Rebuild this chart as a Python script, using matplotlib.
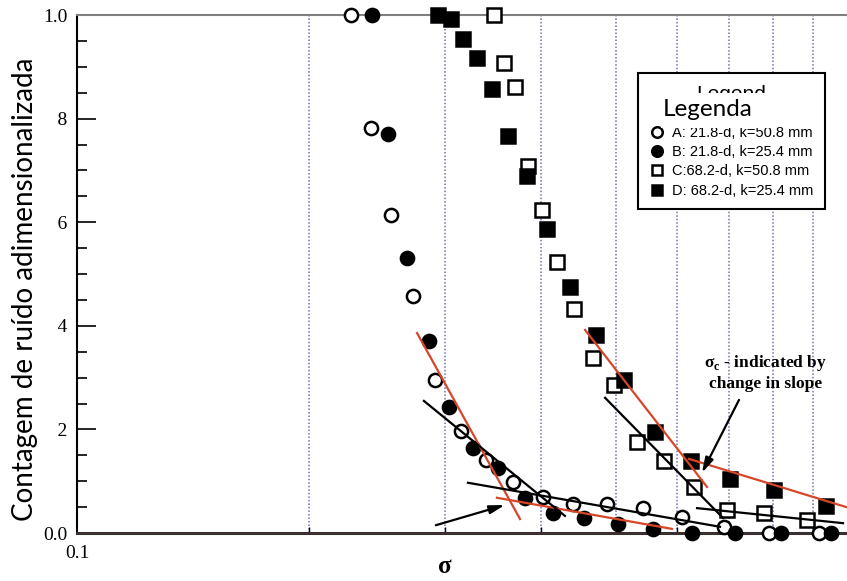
import matplotlib
matplotlib.use('Agg')
import matplotlib.pyplot as plt
import numpy as np
from matplotlib.patches import Rectangle
from matplotlib.ticker import NullFormatter

plt.rcParams['mathtext.fontset'] = 'custom'
plt.rcParams['mathtext.rm'] = 'Liberation Serif'
plt.rcParams['mathtext.bf'] = 'Liberation Serif:bold'

# values (sigma on log axis, normalized noise count)
a_sigma = [0.2266, 0.2406, 0.2555, 0.2728, 0.2912, 0.3148, 0.3392, 0.3677,
           0.4021, 0.4398, 0.4869, 0.5421, 0.6091, 0.6905, 0.7900, 0.9170]
a_count = [1.0, 0.782, 0.614, 0.458, 0.295, 0.197, 0.141, 0.098,
           0.069, 0.056, 0.056, 0.048, 0.031, 0.012, 0.0, 0.0]

b_sigma = [0.2414, 0.2532, 0.2679, 0.2860, 0.3037, 0.3263, 0.3516, 0.3812,
           0.4143, 0.4546, 0.5032, 0.5586, 0.6278, 0.7135, 0.8186, 0.9506]
b_count = [1.0, 0.770, 0.531, 0.371, 0.243, 0.164, 0.125, 0.068,
           0.039, 0.029, 0.017, 0.008, 0.0, 0.0, 0.0, 0.0]

c_sigma = [0.3475, 0.3580, 0.3699, 0.3846, 0.4009, 0.4195, 0.4412, 0.4670,
           0.4972, 0.5324, 0.5773, 0.6316, 0.6967, 0.7783, 0.8845]
c_count = [1.0, 0.907, 0.861, 0.708, 0.624, 0.523, 0.432, 0.338,
           0.286, 0.176, 0.139, 0.089, 0.044, 0.039, 0.025]

d_sigma = [0.2938, 0.3055, 0.3166, 0.3302, 0.3454, 0.3622, 0.3835, 0.4071,
           0.4359, 0.4712, 0.5123, 0.5620, 0.6259, 0.7031, 0.8017, 0.9365]
d_count = [1.0, 0.992, 0.954, 0.917, 0.857, 0.766, 0.689, 0.587,
           0.475, 0.382, 0.295, 0.195, 0.139, 0.104, 0.083, 0.052]

labels = ['A: 21.8-d, k=50.8 mm', 'B: 21.8-d, k=25.4 mm',
          'C:68.2-d, k=50.8 mm', 'D: 68.2-d, k=25.4 mm']

# slope lines: (sigma start, sigma end), (count start, count end)
red_fits = [((0.2761, 0.3755), (0.386, 0.027)),
            ((0.3505, 0.5910), (0.068, 0.008)),
            ((0.4560, 0.6563), (0.392, 0.089)),
            ((0.6221, 1.0), (0.143, 0.049))]
black_fits = [((0.2818, 0.4294), (0.255, 0.033)),
              ((0.3214, 0.6823), (0.097, 0.012)),
              ((0.4841, 0.6885), (0.261, 0.029)),
              ((0.6371, 0.9852), (0.048, 0.019))]

# arrows: (tail, head)
arrows = [((0.2920, 0.015), (0.3589, 0.054)),
          ((0.7222, 0.257), (0.6464, 0.116))]

y_major = [0.0, 0.2, 0.4, 0.6, 0.8, 1.0]
y_minor = [0.05, 0.1, 0.15, 0.25, 0.3, 0.35, 0.45, 0.5, 0.55,
           0.65, 0.7, 0.75, 0.85, 0.9, 0.95]
x_grid = [0.2, 0.3, 0.4, 0.5, 0.6, 0.7, 0.8, 0.9]

W, H = 847, 581


def fx(px):
    return px / W


def fy(py):
    return 1 - py / H


fig = plt.figure(figsize=(W / 100, H / 100), dpi=100)
ax = fig.add_axes([fx(77), fy(533), 771 / W, 518 / H])
ax.set_xscale('log')
ax.set_xlim(0.1, 1.0)
ax.set_ylim(0, 1.0)

ax.set_xticks([0.1])
ax.set_xticklabels(['0.1'])
ax.set_xticks(x_grid, minor=True)
ax.xaxis.set_minor_formatter(NullFormatter())
ax.set_yticks(y_major)
ax.set_yticklabels(['%.1f' % v for v in y_major])
ax.set_yticks(y_minor, minor=True)

ax.tick_params(axis='y', which='major', direction='in', length=14, width=1.2,
               labelsize=14, pad=7)
ax.tick_params(axis='y', which='minor', direction='in', length=7, width=1.2)
ax.tick_params(axis='x', which='minor', direction='in', length=4, width=1)
ax.tick_params(axis='x', which='major', length=0, labelsize=14, pad=9)
for lbl in ax.get_xticklabels() + ax.get_yticklabels():
    lbl.set_fontfamily('Liberation Serif')

ax.grid(which='minor', axis='x', color='#6f6fb5', linestyle=(0, (1, 1.3)), lw=1.1)

ax.spines['right'].set_visible(False)
ax.spines['top'].set_color('#808080')
ax.spines['top'].set_linewidth(1.5)
ax.spines['left'].set_linewidth(1.5)
ax.spines['bottom'].set_color('#3a3030')
ax.spines['bottom'].set_linewidth(2.2)

ms = 9.5
ax.plot(a_sigma, a_count, 'o', ms=ms, mfc='white', mec='black', mew=1.8,
        clip_on=False, zorder=3, label=labels[0])
ax.plot(b_sigma, b_count, 'o', ms=ms, mfc='black', mec='black', mew=1.8,
        clip_on=False, zorder=3, label=labels[1])
ax.plot(c_sigma, c_count, 's', ms=ms, mfc='white', mec='black', mew=1.8,
        clip_on=False, zorder=3, label=labels[2])
ax.plot(d_sigma, d_count, 's', ms=ms, mfc='black', mec='black', mew=1.8,
        clip_on=False, zorder=3, label=labels[3])

for xs, ys in red_fits:
    ax.plot(xs, ys, color='#d8462a', lw=1.6, zorder=4)
for xs, ys in black_fits:
    ax.plot(xs, ys, color='black', lw=1.6, zorder=4)

for tail, head in arrows:
    ax.annotate('', xy=head, xytext=tail, zorder=5,
                arrowprops=dict(arrowstyle='-|>,head_length=0.9,head_width=0.25',
                                color='black', lw=1.6, shrinkA=0, shrinkB=0))

ax.text(0.7827, 0.309, 'σ$_\\mathbf{c}$ - indicated by\nchange in slope',
        ha='center', va='center', family='Liberation Serif', weight='bold',
        size=12.5, linespacing=1.25, zorder=5)

ax.set_xlabel('σ', family='Liberation Serif', weight='bold', size=18)
ax.xaxis.set_label_coords(0.477, -0.042)

leg = ax.legend(loc='upper left', bbox_to_anchor=(0.7276, 0.888),
                title='Legend', prop={'family': 'Liberation Sans', 'size': 10.5},
                title_fontproperties={'family': 'Liberation Sans', 'size': 15},
                frameon=True, fancybox=False, edgecolor='black', framealpha=1,
                borderaxespad=0, handlelength=1, handletextpad=0.5,
                labelspacing=0.36, borderpad=0.8, markerscale=0.8)
leg.get_frame().set_linewidth(1.5)
leg.set_zorder(6)
# more room between the title and the entries, as in the original
leg._legend_box.sep = 16

# white patches pasted over the original labels
fig.patches.append(Rectangle((0, fy(522)), fx(58), (522 - 40) / H,
                             transform=fig.transFigure, fc='white', ec='none',
                             zorder=7))
fig.patches.append(Rectangle((fx(661), fy(128)), (772 - 661) / W, (128 - 93) / H,
                             transform=fig.transFigure, fc='white', ec='none',
                             zorder=7))
fig.text(fx(25), fy(289), 'Contagem de ruído adimensionalizada', rotation=90,
         ha='center', va='center', family='Lato', size=20, zorder=8)
fig.text(fx(663), fy(110), 'Legenda', ha='left', va='center', family='Lato',
         size=17.5, zorder=8)

fig.savefig('out.png', dpi=100)
